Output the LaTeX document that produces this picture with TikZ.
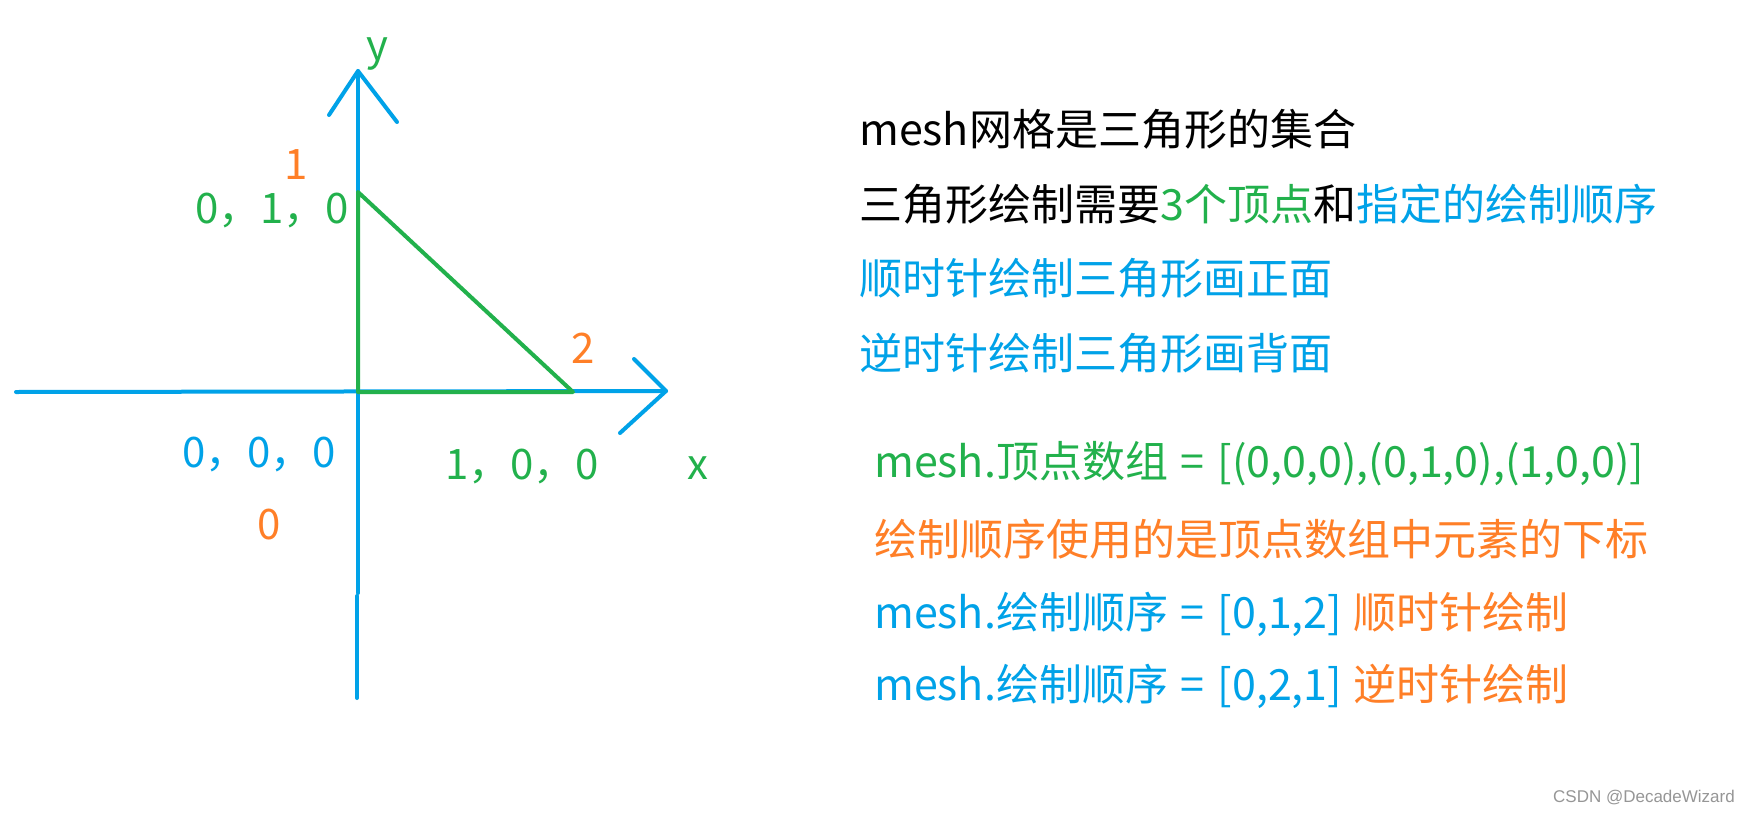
\documentclass[tikz,border=0pt]{standalone}
\usepackage{fontspec}
\setmainfont{Noto Sans CJK SC}
\newfontfamily\wmfont{Liberation Sans}
\definecolor{pblue}{RGB}{0,162,232}
\definecolor{pgreen}{RGB}{34,177,76}
\definecolor{porange}{RGB}{255,127,39}
\definecolor{wmgray}{RGB}{150,150,150}
\newcommand{\eqsp}{\hspace{0.3em}=\hspace{0.3em}}
\begin{document}
\begin{tikzpicture}[x=1pt,y=-1pt,
  axisline/.style={draw=pblue,line width=4pt,line cap=round,line join=round},
  triline/.style={draw=pgreen,line width=4pt,line cap=round,line join=round},
  lbl/.style={font=\fontsize{42}{50}\selectfont,inner sep=0pt},
  txt/.style={font=\fontsize{43}{52}\selectfont,inner sep=0pt,anchor=west},
  wm/.style={font=\wmfont\fontsize{17}{20}\selectfont,text=wmgray,inner sep=0pt,anchor=east}]
\useasboundingbox (0,0) rectangle (1750,816);
\fill[white] (0,0) rectangle (1750,816);
% coordinates
\coordinate (O) at (358,392);
\coordinate (xl) at (16,392);
\coordinate (xt) at (666,391);
\coordinate (xa1) at (634,359);
\coordinate (xa2) at (620,433);
\coordinate (yt) at (358,71);
\coordinate (yb1) at (358,593);
\coordinate (yb2) at (357,596);
\coordinate (yb) at (357,698);
\coordinate (ya1) at (329,115);
\coordinate (ya2) at (397,122);
\coordinate (V1) at (358,192);
\coordinate (V2) at (573,392);
% axes
\draw[axisline] (xl) -- (xt);
\draw[axisline] (xa1) -- (xt) -- (xa2);
\draw[axisline] (yt) -- (yb1);
\draw[axisline] (yb2) -- (yb);
\draw[axisline] (ya1) -- (yt) -- (ya2);
% triangle
\draw[triline] (O) -- (V1) -- (V2) -- cycle;
% labels
\node[lbl,text=pgreen] (ylab) at (377,54) {y};
\node[lbl,text=pgreen] (xlab) at (698,468) {x};
\node[lbl,text=porange] (i1) at (296,165) {1};
\node[lbl,text=pgreen] (p1) at (272,210) {0，1，0};
\node[lbl,text=porange] (i2) at (583,348) {2};
\node[lbl,text=pblue] (p0) at (259,454) {0，0，0};
\node[lbl,text=porange] (i0) at (269,525) {0};
\node[lbl,text=pgreen] (p2) at (522,466) {1，0，0};
% right text
\node[txt] (t1) at (859,129) {mesh网格是三角形的集合};
\node[txt] (t2) at (859,204) {三角形绘制需要\textcolor{pgreen}{3个顶点}和\textcolor{pblue}{指定的绘制顺序}};
\node[txt,text=pblue] (t3) at (859,278) {顺时针绘制三角形画正面};
\node[txt,text=pblue] (t4) at (859,353) {逆时针绘制三角形画背面};
\node[txt,text=pgreen] (t5) at (874,464) {mesh.顶点数组\eqsp[(0,0,0),(0,1,0),(1,0,0)]};
\node[txt,text=porange] (t6) at (874,539) {绘制顺序使用的是顶点数组中元素的下标};
\node[txt,text=pblue] (t7) at (874,614) {mesh.绘制顺序\eqsp[0,1,2]\hspace{0.25em}\textcolor{porange}{顺时针绘制}};
\node[txt,text=pblue] (t8) at (874,686) {mesh.绘制顺序\eqsp[0,2,1]\hspace{0.25em}\textcolor{porange}{逆时针绘制}};
\node[wm] (wmk) at (1735,798) {CSDN @DecadeWizard};
\end{tikzpicture}
\end{document}
